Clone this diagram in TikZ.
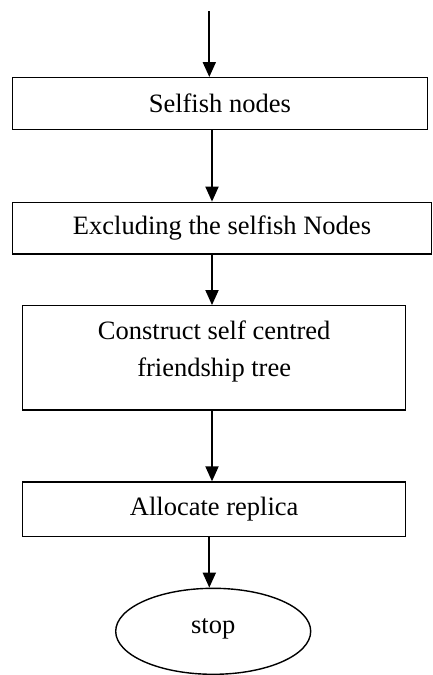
\documentclass[tikz,border=0pt]{standalone}
\usepackage{fontspec}
\setmainfont{Liberation Serif}
\usetikzlibrary{arrows.meta,shapes.geometric}
\tikzset{
  stepbox/.style={draw, rectangle, line width=1.4pt, inner sep=0pt},
  endbox/.style={draw, ellipse, line width=1.4pt, inner sep=0pt},
  label text/.style={font=\fontsize{26.5}{36.7}\selectfont, align=center, inner sep=0pt},
  flow/.style={line width=1.9pt, -{Triangle[length=15pt,width=13pt]}},
}
\begin{document}
\begin{tikzpicture}[x=1pt,y=-1pt]
\useasboundingbox (0,0) rectangle (433,675);
% process boxes
\node[stepbox, minimum width=415pt, minimum height=51.6pt] (b1) at (219.8,103.5) {};
\node[label text] (t1) at (219.8,103.5) {Selfish nodes};
\node[stepbox, minimum width=419.4pt, minimum height=51.7pt] (b2) at (222,228.2) {};
\node[label text] (t2) at (222,228.2) {Excluding the selfish Nodes};
\node[stepbox, minimum width=383pt, minimum height=104.3pt] (b3) at (214.2,357.9) {};
\node[label text] (t3) at (214.2,351.5) {Construct self centred\\friendship tree};
\node[stepbox, minimum width=383pt, minimum height=54.7pt] (b4) at (214.2,509.4) {};
\node[label text] (t4) at (214.2,509.4) {Allocate replica};
% terminal
\node[endbox, minimum width=195pt, minimum height=86pt] (e) at (213.2,631.3) {};
\node[label text] (t5) at (213.2,628.5) {stop};
% arrow columns
\coordinate (start) at (209.3,11);
\coordinate (c2) at (212,0);
\coordinate (c4) at (209.3,0);
% connectors
\draw[flow] (start) -- (start |- b1.north);
\draw[flow] (b1.south -| c2) -- (b2.north -| c2);
\draw[flow] (b2.south -| c2) -- (b3.north -| c2);
\draw[flow] (b3.south -| c2) -- (b4.north -| c2);
\draw[flow] (b4.south -| c4) -- (e.north -| c4);
\end{tikzpicture}
\end{document}
